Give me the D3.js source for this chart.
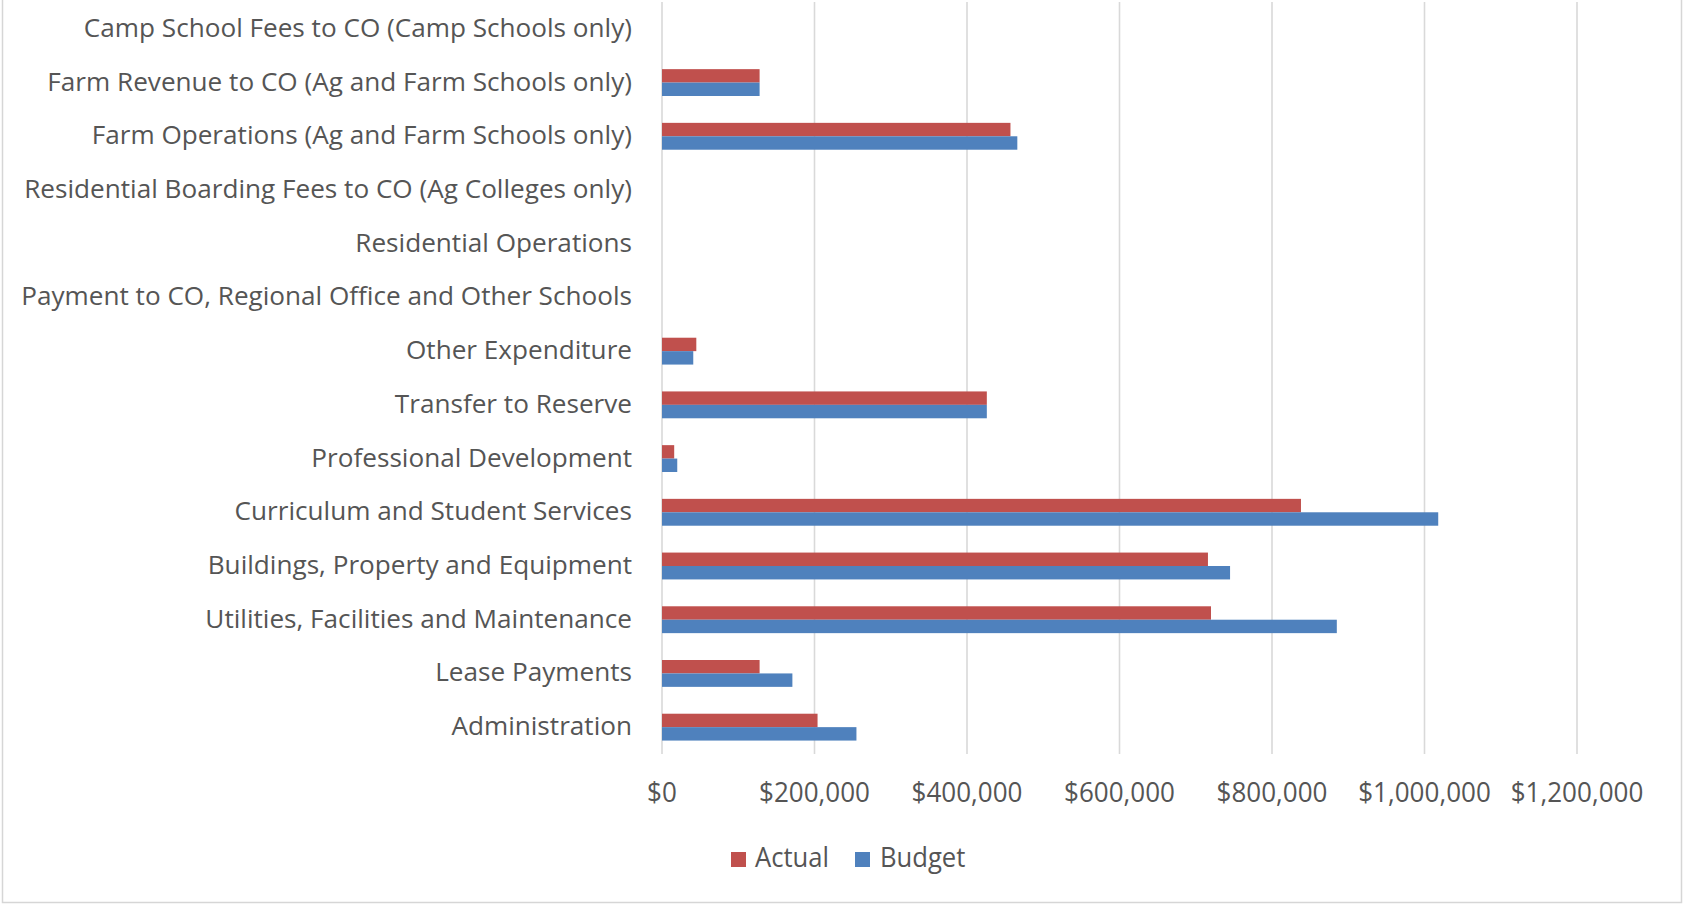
<!DOCTYPE html>
<html>
<head>
<meta charset="utf-8">
<script src="https://cdn.jsdelivr.net/npm/d3@7"></script>
<style>
  html, body { margin: 0; padding: 0; background: #ffffff; }
  svg { display: block; }
</style>
</head>
<body>
<svg id="chart" width="1685" height="906"></svg>
<script>
// Categories listed bottom-to-top (Excel order)
const categories = [
  "Administration",
  "Lease Payments",
  "Utilities, Facilities and Maintenance",
  "Buildings, Property and Equipment",
  "Curriculum and Student Services",
  "Professional Development",
  "Transfer to Reserve",
  "Other Expenditure",
  "Payment to CO, Regional Office and Other Schools",
  "Residential Operations",
  "Residential Boarding Fees to CO (Ag Colleges only)",
  "Farm Operations (Ag and Farm Schools only)",
  "Farm Revenue to CO (Ag and Farm Schools only)",
  "Camp School Fees to CO (Camp Schools only)"
];
const actual = [204000, 128000, 720000, 716000, 838000, 16000, 426000, 45000, 0, 0, 0, 457000, 128000, 0];
const budget = [255000, 171000, 885000, 745000, 1018000, 20000, 426000, 41000, 0, 0, 0, 466000, 128000, 0];
const seriesNames = ["Actual", "Budget"];
const seriesColors = ["#C0504D", "#4F81BD"];
const xTicks = [0, 200000, 400000, 600000, 800000, 1000000, 1200000];

const svg = d3.select("#chart");
const plot = { left: 662, right: 1577, top: 2, bottom: 754 };
const textColor = "#555555";
const fontFamily = "'Open Sans', sans-serif";

// frame
svg.append("rect").attr("x", 2.5).attr("y", -1).attr("width", 1679).attr("height", 903.5)
  .attr("fill", "#fff").attr("stroke", "#d6d6d6").attr("stroke-width", 1.5);

const x = d3.scaleLinear().domain([0, 1200000]).range([plot.left, plot.right]);
const y = d3.scaleBand().domain(categories).range([plot.bottom, plot.top]).padding(0);
const ySub = d3.scaleBand().domain(seriesNames)
  .range([y.bandwidth() * 0.25, y.bandwidth() * 0.75]).padding(0);

// gridlines
svg.append("g").selectAll("line").data(xTicks).join("line")
  .attr("x1", d => x(d)).attr("x2", d => x(d))
  .attr("y1", plot.top).attr("y2", plot.bottom)
  .attr("stroke", "#d9d9d9").attr("stroke-width", 1.6);

// bars
const rows = categories.map((c, i) => ({ cat: c, vals: [actual[i], budget[i]] }));
const rowG = svg.append("g").selectAll("g").data(rows).join("g")
  .attr("transform", d => `translate(0,${y(d.cat)})`);
rowG.selectAll("rect").data(d => d.vals.map((v, j) => ({ v, s: seriesNames[j], c: seriesColors[j] })))
  .join("rect")
  .attr("x", x(0))
  .attr("y", d => ySub(d.s))
  .attr("width", d => x(d.v) - x(0))
  .attr("height", ySub.bandwidth())
  .attr("fill", d => d.c);

// helper to add condensed text
function condensedText(g, items, size, targetWidth, refText, anchor) {
  const probe = svg.append("text").attr("font-family", fontFamily).attr("font-size", size).text(refText);
  const w = probe.node().getComputedTextLength();
  probe.remove();
  const sx = targetWidth / w;
  g.selectAll("text").data(items).join("text")
    .attr("transform", d => `translate(${d.x},${d.y}) scale(${sx},1)`)
    .attr("text-anchor", anchor)
    .attr("font-family", fontFamily)
    .attr("font-size", size)
    .attr("fill", textColor)
    .text(d => d.t);
}

// category labels
condensedText(svg.append("g"),
  categories.map(c => ({ t: c, x: 632, y: y(c) + y.bandwidth() / 2 + 8 })),
  26, 608, "Residential Boarding Fees to CO (Ag Colleges only)", "end");

// x tick labels
const fmt = d => "$" + d3.format(",")(d);
condensedText(svg.append("g"),
  xTicks.map(d => ({ t: fmt(d), x: x(d), y: 802 })),
  27, 111, "$200,000", "middle");

// legend
const lg = svg.append("g");
lg.selectAll("rect").data([{ x: 731, c: seriesColors[0] }, { x: 855, c: seriesColors[1] }]).join("rect")
  .attr("x", d => d.x).attr("y", 852).attr("width", 15).attr("height", 15).attr("fill", d => d.c);
condensedText(lg.append("g"),
  [{ t: seriesNames[0], x: 755, y: 867 }, { t: seriesNames[1], x: 880, y: 867 }],
  27, 74, "Actual", "start");
</script>
</body>
</html>
